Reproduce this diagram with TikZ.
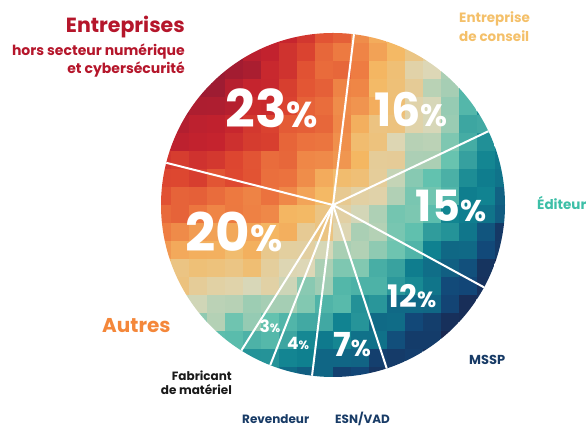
\documentclass[tikz,border=0pt]{standalone}
\usepackage{fontspec}
\setmainfont{Poppins}
\usetikzlibrary{positioning}

\definecolor{ramp0}{HTML}{7A1A38}
\definecolor{ramp1}{HTML}{9C1B32}
\definecolor{ramp2}{HTML}{C4222E}
\definecolor{ramp3}{HTML}{DF4A30}
\definecolor{ramp4}{HTML}{EE7E42}
\definecolor{ramp5}{HTML}{F4B863}
\definecolor{ramp6}{HTML}{DCD8B8}
\definecolor{ramp7}{HTML}{62C2AF}
\definecolor{ramp8}{HTML}{0F8290}
\definecolor{ramp9}{HTML}{124778}
\definecolor{ramp10}{HTML}{1B1F45}
\definecolor{titlered}{HTML}{B5162B}
\definecolor{conseil}{HTML}{F4C06A}
\definecolor{editeur}{HTML}{3DBFA7}
\definecolor{autres}{HTML}{F4873A}
\definecolor{navy}{HTML}{183B66}
\definecolor{ink}{HTML}{1A1A1A}

\newcommand{\pcttxt}[3]{\fontsize{#1}{#1}\selectfont #3\fontsize{#2}{#2}\selectfont\%}

\begin{document}
\begin{tikzpicture}[x=1pt,y=1pt,
  pct/.style={text=white,anchor=base,inner sep=0pt,font=\bfseries},
  lbl/.style={inner sep=0pt,font=\bfseries},
  divider/.style={white,line width=2pt}]
\useasboundingbox (0,0) rectangle (587,427);
\coordinate (ctr) at (333,222);
\pgfmathsetseed{11}

% pixel mosaic, colour runs with the distance from the upper left rim
\begin{scope}
\clip (ctr) circle (172);
\foreach \i in {-10,...,9}{
  \foreach \j in {-10,...,9}{
    \pgfmathsetmacro\d{10*sqrt((((\i+0.5)*18+170)/10)^2+(((\j+0.5)*18-170)/10)^2)+12*rand}
    \pgfmathsetmacro\t{min(max((\d-30)/40,0),9.99)}
    \pgfmathtruncatemacro\k{floor(\t)}
    \pgfmathtruncatemacro\p{100*(\t-\k)}
    \pgfmathtruncatemacro\kk{\k+1}
    \fill[ramp\kk!\p!ramp\k] (333+\i*18,222+\j*18) rectangle ++(18.4,18.4);
  }
}
\end{scope}

% slice borders
\foreach \a in {83,25.4,-28.6,-71.8,-97,-111.4,-122.2,165.8}
  \draw[divider] (ctr) -- +(\a:172);

\node[pct] (p23) at (272,299) {\pcttxt{52}{36}{23}};
\node[pct] (p16) at (411,300) {\pcttxt{46}{31}{16}};
\node[pct] (p15) at (451,205) {\pcttxt{43}{30}{15}};
\node[pct] (p20) at (234,175) {\pcttxt{53}{37}{20}};
\node[pct] (p12) at (412,119) {\pcttxt{31}{22}{12}};
\node[pct] (p7) at (352,70) {\pcttxt{33}{23}{7}};
\node[pct] (p4) at (298,77) {\pcttxt{17}{12}{4}};
\node[pct] (p3) at (270,94) {\pcttxt{17}{12}{3}};

\node[lbl,text=titlered,anchor=base east,font=\bfseries\fontsize{20.5}{22}\selectfont] (ent) at (185,394) {Entreprises};
\node[lbl,text=titlered,anchor=north east,align=right,font=\bfseries\fontsize{14}{18}\selectfont] (entsub) at (185,383) {hors secteur numérique\\et cybersécurité};
\node[lbl,text=conseil,anchor=north west,align=left,font=\bfseries\fontsize{13.5}{19}\selectfont] (cons) at (459,416) {Entreprise\\de conseil};
\node[lbl,text=editeur,anchor=base west,font=\bfseries\fontsize{13.5}{16}\selectfont] (edit) at (537,217) {Éditeur};
\node[lbl,text=navy,anchor=base west,font=\bfseries\fontsize{13}{15}\selectfont] (mssp) at (469,62) {MSSP};
\node[lbl,text=autres,anchor=base west,font=\bfseries\fontsize{20}{22}\selectfont] (aut) at (102,94) {Autres};
\node[lbl,text=ink,anchor=north east,align=right,font=\bfseries\fontsize{12}{14}\selectfont] (fab) at (232,56) {Fabricant\\de matériel};
\node[lbl,text=navy,anchor=base west,font=\bfseries\fontsize{12}{14}\selectfont] (rev) at (242,3) {Revendeur};
\node[lbl,text=navy,anchor=base west,font=\bfseries\fontsize{12}{14}\selectfont] (esn) at (335,3) {ESN/VAD};
\end{tikzpicture}
\end{document}
